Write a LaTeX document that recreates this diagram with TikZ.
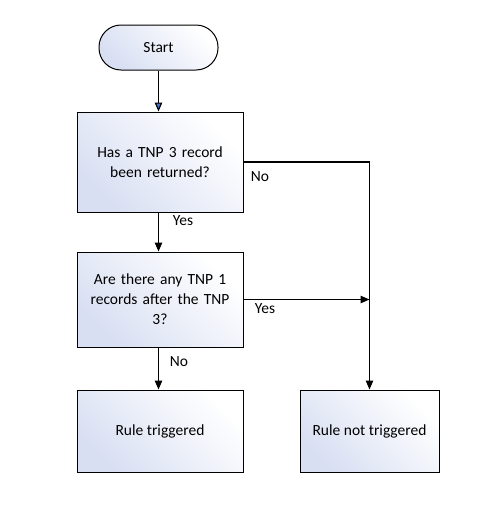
\documentclass[tikz,border=0pt]{standalone}
\usepackage{fontspec}
\setmainfont{Carlito}
\usetikzlibrary{arrows.meta}
\definecolor{boxtint}{RGB}{216,223,242}
\definecolor{tipblue}{RGB}{68,114,196}
\tikzset{
  flowbox/.style={draw=black, line width=1pt, top color=boxtint, bottom color=white, shading angle=135,
    align=center, inner sep=2pt, font=\fontsize{15.5}{20}\selectfont},
  startbox/.style={flowbox, rounded corners=22pt},
  conn/.style={line width=1.1pt, -{Triangle[length=9pt,width=7.5pt]}},
  lbl/.style={font=\fontsize{15.5}{17}\selectfont, inner sep=0pt}
}
\begin{document}
\begin{tikzpicture}[x=1pt,y=-1pt]
\useasboundingbox (0,0) rectangle (489,507);
\node[startbox, minimum width=119pt, minimum height=45pt] (start) at (158.5,47.5) {Start};
\node[flowbox, minimum width=166pt, minimum height=100pt, text width=150pt] (b1) at (160,162) {Has a TNP 3 record\\been returned?};
\node[flowbox, minimum width=166pt, minimum height=95pt, text width=150pt] (b2) at (160,299.5) {Are there any TNP 1\\records after the TNP\\3?};
\node[flowbox, minimum width=166pt, minimum height=82pt] (b3) at (160,431) {Rule triggered};
\node[flowbox, minimum width=139pt, minimum height=82pt] (b4) at (369.5,431) {Rule not triggered};
\coordinate (join) at (b4.north |- b2.east);
\draw[line width=1.1pt, -{Triangle[length=9pt,width=7.5pt,fill=tipblue]}] (start.south) -- (start.south |- b1.north);
\draw[conn] (b1.east) -| (b4.north);
\draw[conn] (start.south |- b1.south) -- (start.south |- b2.north);
\draw[conn] (b2.east) -- (join);
\draw[conn] (start.south |- b2.south) -- (start.south |- b3.north);
\node[lbl] (no1) at (260,177) {No};
\node[lbl] (yes1) at (183,221) {Yes};
\node[lbl] (yes2) at (265,309) {Yes};
\node[lbl] (no2) at (179,362) {No};
\end{tikzpicture}
\end{document}
